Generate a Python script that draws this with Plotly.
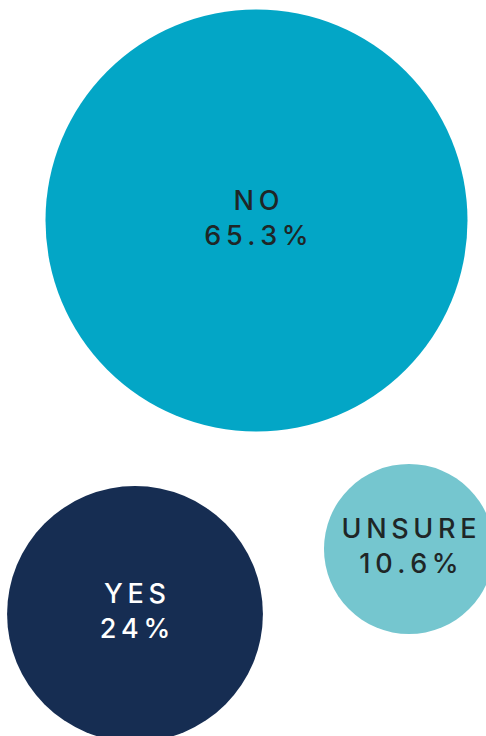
import plotly.graph_objects as go

# Data
labels = ["NO", "YES", "UNSURE"]
values = [65.3, 24, 10.6]

# Layout (packed bubble centres, in pixel-like axis units)
centers_x = [256.5, 135, 409]
centers_y = [220.5, 614, 549]
colors = ["#03A6C6", "#162D52", "#75C6CF"]
text_colors = ["#1F2627", "#FFFFFF", "#1F2627"]
W, H = 486, 736
MAX_DIAM = 422

THIN = "\u2009"


def spaced(s):
    return THIN.join(list(s))


texts = [spaced(l) + "<br>" + spaced(f"{v:g}%") for l, v in zip(labels, values)]

fig = go.Figure(
    go.Scatter(
        x=centers_x,
        y=centers_y,
        mode="markers+text",
        text=texts,
        textposition="middle center",
        textfont=dict(family="Inter", size=27, color=text_colors, weight=500),
        marker=dict(
            size=values,
            sizemode="area",
            sizeref=2.0 * max(values) / (MAX_DIAM ** 2),
            color=colors,
            opacity=1,
            line=dict(width=0),
        ),
        hoverinfo="skip",
        cliponaxis=False,
    )
)

fig.update_layout(
    width=W,
    height=H,
    margin=dict(l=0, r=0, t=0, b=0),
    paper_bgcolor="white",
    plot_bgcolor="white",
    showlegend=False,
    xaxis=dict(range=[0, W], visible=False, fixedrange=True),
    yaxis=dict(range=[H, 0], visible=False, fixedrange=True),
)

fig.write_html("out.html", config={"displayModeBar": False})
